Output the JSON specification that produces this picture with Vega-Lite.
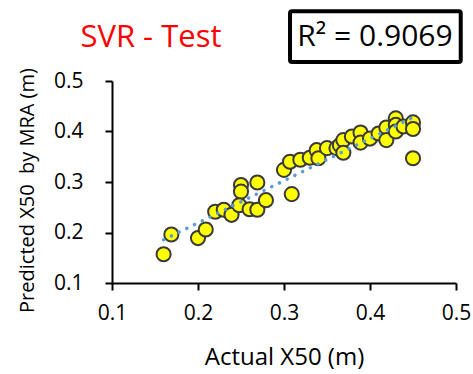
{
  "$schema": "https://vega.github.io/schema/vega-lite/v6.json",
  "autosize": {"type": "none"},
  "padding": {"left": 112, "top": 81, "right": 17, "bottom": 91},
  "width": 344,
  "height": 202,
  "background": "white",
  "config": {
    "view": {"stroke": null},
    "font": "Open Sans"
  },
  "data": {
    "values": [
      {"actual": 0.16, "pred": 0.157},
      {"actual": 0.169, "pred": 0.196},
      {"actual": 0.2, "pred": 0.189},
      {"actual": 0.209, "pred": 0.206},
      {"actual": 0.22, "pred": 0.241},
      {"actual": 0.23, "pred": 0.245},
      {"actual": 0.239, "pred": 0.235},
      {"actual": 0.25, "pred": 0.294},
      {"actual": 0.25, "pred": 0.281},
      {"actual": 0.248, "pred": 0.254},
      {"actual": 0.26, "pred": 0.246},
      {"actual": 0.269, "pred": 0.245},
      {"actual": 0.269, "pred": 0.299},
      {"actual": 0.279, "pred": 0.264},
      {"actual": 0.3, "pred": 0.324},
      {"actual": 0.309, "pred": 0.276},
      {"actual": 0.307, "pred": 0.34},
      {"actual": 0.319, "pred": 0.344},
      {"actual": 0.33, "pred": 0.348},
      {"actual": 0.338, "pred": 0.363},
      {"actual": 0.34, "pred": 0.347},
      {"actual": 0.35, "pred": 0.367},
      {"actual": 0.361, "pred": 0.367},
      {"actual": 0.365, "pred": 0.373},
      {"actual": 0.369, "pred": 0.383},
      {"actual": 0.369, "pred": 0.358},
      {"actual": 0.379, "pred": 0.39},
      {"actual": 0.389, "pred": 0.398},
      {"actual": 0.389, "pred": 0.378},
      {"actual": 0.4, "pred": 0.386},
      {"actual": 0.41, "pred": 0.396},
      {"actual": 0.419, "pred": 0.408},
      {"actual": 0.419, "pred": 0.383},
      {"actual": 0.43, "pred": 0.426},
      {"actual": 0.43, "pred": 0.413},
      {"actual": 0.43, "pred": 0.4},
      {"actual": 0.439, "pred": 0.41},
      {"actual": 0.45, "pred": 0.418},
      {"actual": 0.45, "pred": 0.405},
      {"actual": 0.45, "pred": 0.347}
    ]
  },
  "layer": [
    {
      "mark": {"type": "point", "filled": true, "fill": "#FFFF00", "stroke": "#3A3A3A", "strokeWidth": 2, "size": 200, "opacity": 1},
      "encoding": {
        "x": {
          "field": "actual", "type": "quantitative",
          "scale": {"domain": [0.1, 0.5], "nice": false, "zero": false},
          "axis": {
            "title": "Actual X50 (m)",
            "values": [0.1, 0.2, 0.3, 0.4, 0.5],
            "format": ".1f",
            "grid": false,
            "domainColor": "#000000",
            "domainWidth": 2,
            "tickColor": "#000000",
            "tickWidth": 2,
            "tickSize": 7,
            "labelFont": "Open Sans",
            "labelFontSize": 21,
            "labelColor": "#000000",
            "labelPadding": 12,
            "labelFlush": false,
            "titleFont": "Open Sans",
            "titleFontSize": 24,
            "titleFontWeight": "normal",
            "titleColor": "#000000",
            "titlePadding": 22
          }
        },
        "y": {
          "field": "pred", "type": "quantitative",
          "scale": {"domain": [0.1, 0.5], "nice": false, "zero": false},
          "axis": {
            "title": "Predicted X50\u00a0 by MRA (m)",
            "values": [0.1, 0.2, 0.3, 0.4, 0.5],
            "format": ".1f",
            "grid": false,
            "domainColor": "#000000",
            "domainWidth": 2,
            "tickColor": "#000000",
            "tickWidth": 2,
            "tickSize": 7,
            "labelFont": "Open Sans",
            "labelFontSize": 21,
            "labelColor": "#000000",
            "labelPadding": 22,
            "labelFlush": false,
            "titleFont": "Open Sans",
            "titleFontSize": 20,
            "titleFontWeight": "normal",
            "titleColor": "#000000",
            "titlePadding": 16,
            "titleY": 109
          }
        }
      }
    },
    {
      "transform": [{"regression": "pred", "on": "actual"}],
      "mark": {"type": "line", "color": "#5B9BD5", "strokeWidth": 3.5, "strokeDash": [0.1, 8.5], "strokeCap": "round"},
      "encoding": {
        "x": {"field": "actual", "type": "quantitative"},
        "y": {"field": "pred", "type": "quantitative"}
      }
    },
    {
      "data": {"values": [{"label": "R² = 0.9069"}]},
      "mark": {"type": "rect", "fill": "white", "stroke": "#000000", "strokeWidth": 4, "cornerRadius": 2},
      "encoding": {
        "x": {"datum": 0.307},
        "x2": {"datum": 0.5055},
        "y": {"datum": 0.5376},
        "y2": {"datum": 0.638}
      }
    },
    {
      "data": {"values": [{"label": "R² = 0.9069"}]},
      "mark": {"type": "text", "font": "Open Sans", "fontSize": 30, "fontWeight": "normal", "fill": "#000000", "align": "center", "baseline": "middle"},
      "encoding": {
        "text": {"field": "label"},
        "x": {"datum": 0.4058},
        "y": {"datum": 0.588}
      }
    },
    {
      "data": {"values": [{"label": "SVR - Test"}]},
      "mark": {"type": "text", "font": "Open Sans", "fontSize": 31, "fontWeight": "normal", "fill": "#FF0000", "align": "center", "baseline": "alphabetic"},
      "encoding": {
        "text": {"field": "label"},
        "x": {"datum": 0.1453},
        "y": {"datum": 0.567}
      }
    }
  ]
}
